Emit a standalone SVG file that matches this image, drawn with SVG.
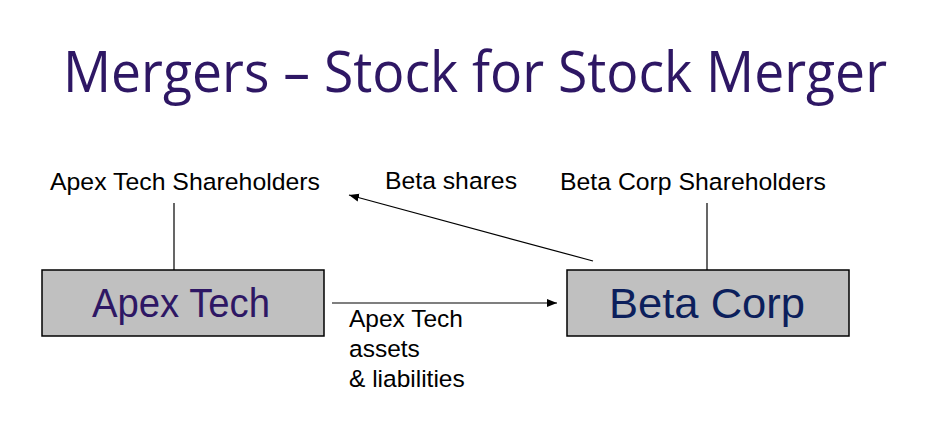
<svg xmlns="http://www.w3.org/2000/svg" width="942" height="448" viewBox="0 0 942 448">
<style>
.lbl{font-family:"Liberation Sans",Arial,sans-serif;font-size:24.5px;fill:#000}
.box{fill:#c0c0c0;stroke:#000;stroke-width:1.5}
.ln{stroke:#000;stroke-width:1.2;fill:none}
</style>
<defs>
<marker id="ah" viewBox="0 0 10 10" refX="10" refY="5" markerWidth="10" markerHeight="10" markerUnits="userSpaceOnUse" orient="auto">
<path d="M0,1 L10,5 L0,9 z" fill="#000"/>
</marker>
</defs>
<rect width="942" height="448" fill="#fff"/>
<text id="title" x="63" y="92" textLength="824" lengthAdjust="spacingAndGlyphs" style="font-family:'Open Sans','Noto Sans',sans-serif;font-size:56px;fill:#2e1764">Mergers – Stock for Stock Merger</text>
<g id="connectors">
<line class="ln" x1="174" y1="203" x2="174" y2="270"/>
<line class="ln" x1="707" y1="203" x2="707" y2="270"/>
<line class="ln" x1="593" y1="261" x2="349" y2="195" marker-end="url(#ah)"/>
<line class="ln" x1="332" y1="303" x2="557" y2="303" marker-end="url(#ah)"/>
</g>
<g id="apex-shareholders"><text class="lbl" x="50" y="190" textLength="270" lengthAdjust="spacingAndGlyphs">Apex Tech Shareholders</text></g>
<g id="beta-shareholders"><text class="lbl" x="560" y="190" textLength="266" lengthAdjust="spacingAndGlyphs">Beta Corp Shareholders</text></g>
<g id="beta-shares-label"><text class="lbl" x="385" y="189" textLength="132" lengthAdjust="spacingAndGlyphs">Beta shares</text></g>
<g id="apex-tech">
<rect class="box" x="42" y="270" width="282" height="66"/>
<text x="92" y="317" textLength="178" lengthAdjust="spacingAndGlyphs" style="font-family:'Liberation Sans',Arial,sans-serif;font-size:40px;fill:#2e1764">Apex Tech</text>
</g>
<g id="beta-corp">
<rect class="box" x="567" y="270" width="282" height="66"/>
<text x="609" y="318" textLength="196" lengthAdjust="spacingAndGlyphs" style="font-family:'Liberation Sans',Arial,sans-serif;font-size:42px;fill:#0c1f5c">Beta Corp</text>
</g>
<g id="assets-label">
<text class="lbl" x="349" y="327">Apex Tech</text>
<text class="lbl" x="349" y="357">assets</text>
<text class="lbl" x="349" y="387">&amp; liabilities</text>
</g>
</svg>
